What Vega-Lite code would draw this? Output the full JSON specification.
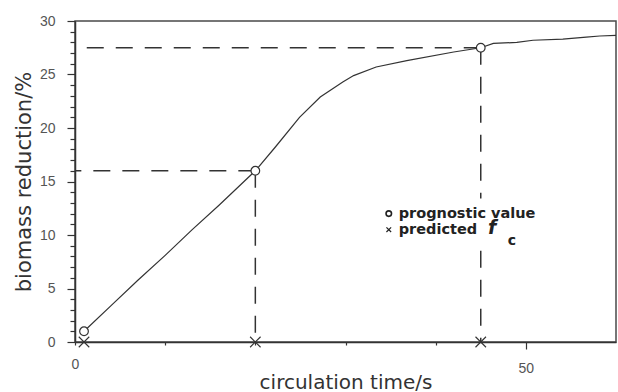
{
  "$schema": "https://vega.github.io/schema/vega-lite/v6.json",
  "width": 541,
  "height": 321,
  "autosize": {"type": "none"},
  "padding": {"left": 75, "top": 21, "right": 2, "bottom": 50},
  "background": "white",
  "config": {
    "view": {"stroke": "#4a4a4a", "strokeWidth": 1.5},
    "axis": {
      "domainColor": "#333333",
      "domainWidth": 1.5,
      "tickColor": "#333333",
      "tickWidth": 1.2,
      "grid": false,
      "labelFont": "Liberation Sans",
      "labelFontSize": 14,
      "labelColor": "#555555",
      "labelFlush": false,
      "labelOverlap": false,
      "labelBound": false,
      "titleFont": "DejaVu Sans",
      "titleFontSize": 20,
      "titleFontWeight": "normal",
      "titleColor": "#333333"
    }
  },
  "datasets": {
    "curve": [
      {"t": 1, "v": 1.0},
      {"t": 4, "v": 3.4},
      {"t": 7, "v": 5.8},
      {"t": 10, "v": 8.1},
      {"t": 13, "v": 10.5},
      {"t": 16, "v": 12.8},
      {"t": 20, "v": 16.0},
      {"t": 22.2, "v": 18.2},
      {"t": 24.9, "v": 21.0},
      {"t": 27.2, "v": 22.9},
      {"t": 29.7, "v": 24.3},
      {"t": 30.9, "v": 24.9},
      {"t": 33.4, "v": 25.7},
      {"t": 36.8, "v": 26.3},
      {"t": 42, "v": 27.1},
      {"t": 45, "v": 27.5},
      {"t": 46.4, "v": 27.9},
      {"t": 49, "v": 28.0},
      {"t": 50.8, "v": 28.2},
      {"t": 54.1, "v": 28.3},
      {"t": 56.7, "v": 28.5},
      {"t": 58.2, "v": 28.6},
      {"t": 60, "v": 28.65}
    ],
    "marks": [
      {"t": 1, "v": 1.0},
      {"t": 20, "v": 16.0},
      {"t": 45, "v": 27.5}
    ]
  },
  "layer": [
    {
      "data": {"name": "curve"},
      "mark": {"type": "line", "color": "#333333", "strokeWidth": 1.2},
      "encoding": {
        "x": {
          "field": "t",
          "type": "quantitative",
          "scale": {"domain": [0, 60], "nice": false, "zero": false},
          "axis": {
            "title": "circulation time/s",
            "values": [0, 10, 20, 30, 40, 50],
            "tickCount": 20,
            "labelExpr": "datum.value == 0 || datum.value == 50 ? datum.label : ''",
            "tickSize": {"condition": {"test": "datum.value == 50", "value": 7}, "value": 3},
            "labelOverlap": false,
            "labelPadding": 12,
            "titlePadding": -3
          }
        },
        "y": {
          "field": "v",
          "type": "quantitative",
          "scale": {"domain": [0, 30], "nice": false},
          "axis": {
            "title": "biomass reduction/%",
            "titleFontSize": 21,
            "values": [0,1,2,3,4,5,6,7,8,9,10,11,12,13,14,15,16,17,18,19,20,21,22,23,24,25,26,27,28,29,30],
            "tickCount": 40,
            "labelExpr": "datum.value % 5 == 0 ? datum.label : ''",
            "tickSize": {"condition": {"test": "datum.value % 5 == 0", "value": 8}, "value": 5},
            "labelOverlap": false,
            "labelPadding": 12,
            "titlePadding": 5
          }
        }
      }
    },
    {
      "data": {"name": "marks"},
      "mark": {"type": "rule", "color": "#333333", "strokeWidth": 1.5, "strokeDash": [17, 12]},
      "transform": [{"filter": "datum.t > 5"}],
      "encoding": {
        "x": {"field": "t", "type": "quantitative"},
        "x2": {"datum": 0},
        "y": {"field": "v", "type": "quantitative"}
      }
    },
    {
      "data": {"name": "marks"},
      "mark": {"type": "rule", "color": "#333333", "strokeWidth": 1.5, "strokeDash": [17, 12]},
      "transform": [{"filter": "datum.t > 5"}],
      "encoding": {
        "x": {"field": "t", "type": "quantitative"},
        "y": {"field": "v", "type": "quantitative"},
        "y2": {"datum": 0}
      }
    },
    {
      "data": {"values": [{}]},
      "mark": {"type": "rect", "color": "white", "opacity": 1},
      "encoding": {
        "x": {"datum": 33.9, "type": "quantitative"},
        "x2": {"datum": 54.5},
        "y": {"datum": 13.4, "type": "quantitative"},
        "y2": {"datum": 8.6}
      }
    },
    {
      "data": {"name": "marks"},
      "mark": {"type": "point", "shape": "circle", "filled": true, "fill": "white", "stroke": "#333333", "strokeWidth": 1.2, "size": 75, "opacity": 1},
      "encoding": {
        "x": {"field": "t", "type": "quantitative"},
        "y": {"field": "v", "type": "quantitative"}
      }
    },
    {
      "data": {"name": "marks"},
      "mark": {"type": "point", "shape": "M-1,-1L1,1M-1,1L1,-1", "filled": false, "stroke": "#333333", "strokeWidth": 1.1, "size": 110, "opacity": 1},
      "encoding": {
        "x": {"field": "t", "type": "quantitative"},
        "y": {"datum": 0, "type": "quantitative"}
      }
    },
    {
      "data": {"values": [{}]},
      "mark": {"type": "point", "shape": "circle", "filled": false, "stroke": "#222222", "strokeWidth": 1.6, "size": 30, "opacity": 1},
      "encoding": {
        "x": {"datum": 34.8, "type": "quantitative"},
        "y": {"datum": 12.0, "type": "quantitative"}
      }
    },
    {
      "data": {"values": [{}]},
      "mark": {"type": "point", "shape": "M-1,-1L1,1M-1,1L1,-1", "filled": false, "stroke": "#222222", "strokeWidth": 1.2, "size": 22, "opacity": 1},
      "encoding": {
        "x": {"datum": 34.8, "type": "quantitative"},
        "y": {"datum": 10.5, "type": "quantitative"}
      }
    },
    {
      "data": {"values": [{}]},
      "mark": {"type": "text", "text": "prognostic value", "align": "left", "baseline": "middle", "font": "DejaVu Sans", "fontWeight": "bold", "fontSize": 14.5, "color": "#222222"},
      "encoding": {
        "x": {"datum": 35.9, "type": "quantitative"},
        "y": {"datum": 12.0, "type": "quantitative"}
      }
    },
    {
      "data": {"values": [{}]},
      "mark": {"type": "text", "text": "predicted", "align": "left", "baseline": "middle", "font": "DejaVu Sans", "fontWeight": "bold", "fontSize": 14.5, "color": "#222222"},
      "encoding": {
        "x": {"datum": 35.9, "type": "quantitative"},
        "y": {"datum": 10.5, "type": "quantitative"}
      }
    },
    {
      "data": {"values": [{}]},
      "mark": {"type": "text", "text": "f", "align": "left", "baseline": "middle", "font": "DejaVu Sans", "fontWeight": "bold", "fontStyle": "italic", "fontSize": 19, "color": "#222222"},
      "encoding": {
        "x": {"datum": 45.8, "type": "quantitative"},
        "y": {"datum": 10.7, "type": "quantitative"}
      }
    },
    {
      "data": {"values": [{}]},
      "mark": {"type": "text", "text": "c", "align": "left", "baseline": "middle", "font": "DejaVu Sans", "fontWeight": "bold", "fontSize": 14, "color": "#222222"},
      "encoding": {
        "x": {"datum": 48.0, "type": "quantitative"},
        "y": {"datum": 9.4, "type": "quantitative"}
      }
    }
  ]
}
